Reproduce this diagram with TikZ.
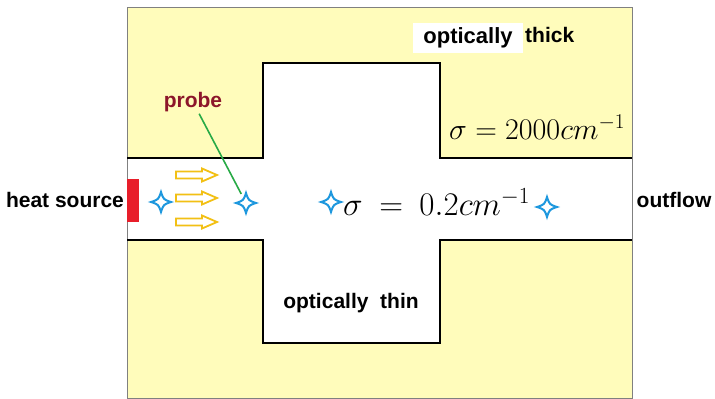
\RequirePackage{fix-cm}
\documentclass[tikz,border=0pt]{standalone}
\usepackage{fontspec}
\newfontfamily\labelfont{Liberation Sans}
\usetikzlibrary{positioning}

\definecolor{thickfill}{RGB}{255,252,187}
\definecolor{starblue}{RGB}{30,152,222}
\definecolor{arrowgold}{RGB}{242,192,20}
\definecolor{probered}{RGB}{140,22,42}
\definecolor{probegreen}{RGB}{40,170,70}
\definecolor{sourcered}{RGB}{232,30,42}

\tikzset{
  lbl/.style={font=\labelfont\bfseries\fontsize{21}{25}\selectfont, inner sep=0pt},
  sigmalbl/.style={font=\fontsize{30}{36}\selectfont, inner sep=0pt},
  starspot/.style={circle, minimum size=20pt, inner sep=0pt},
  wall/.style={line width=2pt, line join=miter},
  probestar/.pic={
    \draw[starblue, line width=2pt, fill=white] (0,-10) .. controls (2.5,-2.5) .. (10,0)
      .. controls (2.5,2.5) .. (0,10) .. controls (-2.5,2.5) .. (-10,0)
      .. controls (-2.5,-2.5) .. (0,-10) -- cycle;},
  flowarrow/.pic={
    \draw[arrowgold, line width=1.8pt, line join=miter] (0,-3.5) -- (26,-3.5) -- (26,-6.5)
      -- (41,0) -- (26,6.5) -- (26,3.5) -- (0,3.5) -- cycle;}
}

\begin{document}
\begin{tikzpicture}[x=1pt, y=-1pt]
\useasboundingbox (0,0) rectangle (715,399);
% optically thick medium
\fill[thickfill] (127,7) rectangle (632,398);
% optically thin channel and chamber
\fill[white] (127,158) -- (263,158) -- (263,63) -- (440,63) -- (440,158) -- (632,158)
  -- (632,240) -- (440,240) -- (440,343) -- (263,343) -- (263,240) -- (127,240) -- cycle;
\draw[gray, line width=0.8pt] (127,7) rectangle (632,398);
\draw[wall] (127,158) -- (263,158) -- (263,63) -- (440,63) -- (440,158) -- (632,158);
\draw[wall] (127,240) -- (263,240) -- (263,343) -- (440,343) -- (440,240) -- (632,240);

% heat source
\fill[sourcered] (127,179) rectangle (139,222);
\node[lbl, anchor=base] (heat) at (65,207) {heat source};
\node[lbl, anchor=base] (outflow) at (674,207) {outflow};

% flow arrows
\foreach \y in {175,198,222}
  \pic at (176,\y) {flowarrow};

% probes
\node[starspot] (s1) at (161,202) {};
\node[starspot] (s2) at (246,203) {};
\node[starspot] (s3) at (331,202) {};
\node[starspot] (s4) at (547,207) {};
\foreach \s in {s1,s2,s3,s4}
  \pic at (\s) {probestar};
\node[lbl, text=probered, anchor=base] (probe) at (193,107) {probe};
\draw[probegreen, line width=1.6pt, shorten <=2.5pt] ([xshift=5pt]probe.south) -- (s2);

% labels
\node[lbl, fill=white, minimum width=110pt, minimum height=30pt] (opt) at (468,38) {\fontsize{22}{26}\selectfont optically};
\node[lbl, anchor=base west] (thick) at (525,42) {thick};
\node[lbl, anchor=base] (thin) at (351,308) {optically\ \ thin};
\node[sigmalbl, anchor=base west] (sthick) at (449,139) {$\sigma = 2000cm^{-1}$};
\node[sigmalbl, anchor=base west, font=\fontsize{33}{38}\selectfont] (sthin) at (343,215) {$\sigma\:=\:0.2cm^{-1}$};
\end{tikzpicture}
\end{document}
